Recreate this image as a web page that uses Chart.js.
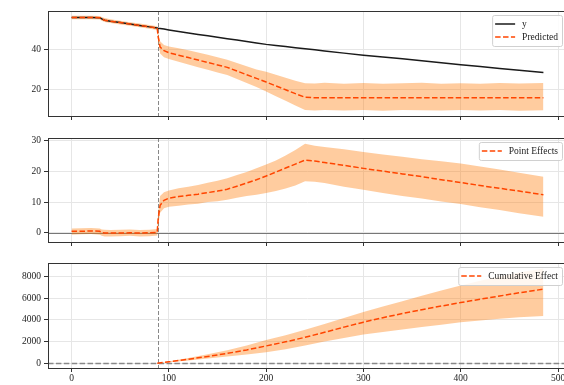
<!DOCTYPE html>
<html>
<head>
<meta charset="utf-8">
<script src="https://cdn.jsdelivr.net/npm/chart.js@4.4.1/dist/chart.umd.min.js"></script>
<style>
  html, body { margin: 0; padding: 0; background: #fff; width: 564px; height: 385px; overflow: hidden; }
  canvas { position: absolute; left: 0; }
</style>
</head>
<body>
<canvas id="c1" width="580" height="125" style="top:0px"></canvas>
<canvas id="c2" width="580" height="128" style="top:125px"></canvas>
<canvas id="c3" width="580" height="132" style="top:253px"></canvas>
<script>
// panels 1 and 2 share the same sampled days
const days = [0, 10, 20, 29, 31, 34, 40, 50, 60, 70, 80, 88, 89, 91, 95, 100, 110, 120, 130, 140,
  150, 160, 170, 180, 190, 200, 210, 220, 230, 240, 250, 260, 280, 300, 320, 340, 360, 380, 400, 420,
  440, 460, 485];

const observed = [55.5, 55.5, 55.5, 55.4, 54.8, 54.2, 53.7, 53.0, 52.3, 51.6, 50.9, 50.3, 50.2, 50.1, 49.8, 49.4, 48.6, 47.9, 47.2, 46.5,
  45.8, 45.1, 44.4, 43.7, 43.0, 42.3, 41.8, 41.2, 40.6, 40.1, 39.6, 39.1, 38.0, 37.0, 36.1, 35.2, 34.2, 33.3, 32.3, 31.4,
  30.5, 29.6, 28.5];
const predicted = [55.5, 55.5, 55.5, 55.4, 54.8, 54.2, 53.7, 53.0, 52.3, 51.6, 50.9, 50.3, 46.0, 41.0, 39.2, 38.2, 37.0, 35.8, 34.6, 33.4,
  32.2, 31.0, 29.2, 27.4, 25.6, 23.8, 21.9, 20.0, 18.1, 16.3, 16.1, 16.1, 16.1, 16.1, 16.1, 16.1, 16.1, 16.1, 16.1, 16.1,
  16.1, 16.1, 16.1];
const predUpper = [56.4, 56.4, 56.4, 56.3, 55.8, 55.2, 54.6, 53.9, 53.2, 52.5, 51.8, 51.2, 48.0, 43.8, 42.0, 41.3, 40.4, 39.4, 38.3, 37.2,
  36.0, 34.8, 33.2, 31.6, 30.0, 28.9, 27.4, 25.9, 24.4, 23.2, 23.1, 23.4, 23.0, 23.3, 22.9, 23.2, 23.4, 23.0, 23.2, 22.9,
  23.3, 23.1, 23.3];
const predLower = [54.6, 54.6, 54.6, 54.5, 53.9, 53.3, 52.8, 52.1, 51.4, 50.7, 50.0, 49.4, 43.5, 37.8, 36.0, 35.1, 33.8, 32.4, 31.1, 29.8,
  28.5, 27.2, 25.3, 23.3, 21.3, 19.1, 16.8, 14.6, 12.3, 10.1, 9.8, 10.1, 9.8, 10.0, 9.7, 10.1, 9.9, 9.8, 10.1, 9.8,
  10.0, 9.7, 9.9];

const pointEffect = [0.5, 0.5, 0.6, 0.5, 0.1, -0.1, -0.1, -0.1, 0.0, -0.1, 0.0, 0.1, 4.5, 9.0, 10.6, 11.3, 11.8, 12.2, 12.6, 13.1,
  13.6, 14.2, 15.2, 16.2, 17.3, 18.5, 19.8, 21.1, 22.4, 23.7, 23.4, 22.9, 22.0, 21.0, 20.1, 19.2, 18.3, 17.3, 16.4, 15.4,
  14.5, 13.6, 12.4];
const pointUpper = [1.4, 1.5, 1.6, 1.4, 1.1, 1.0, 0.9, 1.0, 1.1, 0.9, 1.0, 1.2, 7.0, 12.0, 13.2, 13.8, 14.5, 15.0, 15.6, 16.3,
  17.0, 17.8, 18.8, 19.8, 21.0, 22.3, 23.6, 25.2, 27.0, 29.0, 28.4, 28.0, 27.2, 26.3, 25.5, 24.8, 24.0, 23.3, 22.6, 21.6,
  20.6, 19.6, 18.3];
const pointLower = [-0.6, -0.5, -0.4, -0.6, -1.0, -1.2, -1.2, -1.1, -1.0, -1.2, -1.1, -0.9, 2.0, 6.5, 8.0, 8.5, 8.8, 9.2, 9.5, 10.0,
  10.3, 10.8, 11.4, 12.0, 12.4, 13.0, 13.6, 14.4, 15.4, 16.8, 16.6, 16.2, 15.0, 14.0, 13.0, 12.0, 11.2, 10.2, 9.4, 8.3,
  7.4, 6.4, 5.2];

const cumDays = [88, 100, 120, 140, 160, 180, 200, 220, 240, 260, 280, 300, 320, 340, 360, 380, 400, 420, 440, 460, 485];
const cumEffect = [0, 130, 370, 630, 910, 1230, 1600, 1980, 2400, 2860, 3340, 3800, 4210, 4600, 4950, 5290, 5610, 5920, 6220, 6510, 6850];
const cumUpper = [0, 170, 480, 820, 1200, 1650, 2150, 2600, 3100, 3620, 4180, 4740, 5250, 5740, 6230, 6720, 7200, 7630, 8020, 8400, 8750];
const cumLower = [0, 90, 260, 440, 620, 810, 1010, 1300, 1650, 2000, 2330, 2650, 2900, 3130, 3340, 3560, 3780, 3960, 4110, 4250, 4380];

const intervention = 88.5;
const xTicks = [0, 100, 200, 300, 400, 500];

const ORANGE = '#ff4500';
const BAND = 'rgba(255, 127, 14, 0.4)';
const FAMILY = '"Liberation Serif", "DejaVu Serif", serif';
const FONT = { family: FAMILY, size: 9.5, lineHeight: 1 };

const pts = (xs, ys) => xs.map((x, i) => ({ x, y: ys[i] }));

const bandSets = (xs, lo, hi) => [
  { data: pts(xs, lo), borderColor: 'transparent', borderWidth: 0, fill: false, order: 2 },
  { data: pts(xs, hi), borderColor: 'transparent', borderWidth: 0, backgroundColor: BAND, fill: '-1', order: 2 }
];

const dashed = (xs, ys) => ({
  data: pts(xs, ys), borderColor: ORANGE, borderWidth: 1.5, borderDash: [5.5, 2.4], fill: false, order: 0
});

const decor = {
  id: 'decor',
  beforeDatasetsDraw(chart, args, opts) {
    const { ctx, chartArea: a, scales: { x, y } } = chart;
    ctx.save();
    ctx.beginPath();
    ctx.rect(a.left, a.top, a.right - a.left, a.bottom - a.top);
    ctx.clip();
    if (opts.zero) {
      const py = Math.round(y.getPixelForValue(0)) + 0.5;
      ctx.strokeStyle = opts.zero.color;
      ctx.lineWidth = opts.zero.width;
      ctx.setLineDash(opts.zero.dash);
      ctx.beginPath();
      ctx.moveTo(a.left, py);
      ctx.lineTo(a.right, py);
      ctx.stroke();
    }
    const px = Math.round(x.getPixelForValue(intervention)) + 0.5;
    ctx.strokeStyle = '#888';
    ctx.lineWidth = 1;
    ctx.setLineDash([4, 2]);
    ctx.beginPath();
    ctx.moveTo(px, a.top);
    ctx.lineTo(px, a.bottom);
    ctx.stroke();
    ctx.restore();
  },
  afterDraw(chart, args, opts) {
    const { ctx, chartArea: a } = chart;
    ctx.save();
    // axes frame
    ctx.strokeStyle = '#333';
    ctx.lineWidth = 1;
    ctx.strokeRect(a.left + 0.5, a.top + 0.5, a.right - a.left, a.bottom - a.top);

    // legend in the upper right corner
    const items = opts.legend;
    ctx.font = '9.5px ' + FAMILY;
    const tw = Math.max(...items.map(it => ctx.measureText(it.label).width));
    const rowH = 13;
    const w = 3 + 20 + 7 + tw + 4;
    const h = items.length * rowH + 5;
    const bx = a.right - 5 - w;
    const by = a.top + 4;
    ctx.fillStyle = 'rgba(255,255,255,0.85)';
    ctx.strokeStyle = '#d0d0d0';
    ctx.beginPath();
    ctx.roundRect(bx + 0.5, by + 0.5, w, h, 2);
    ctx.fill();
    ctx.stroke();
    items.forEach((it, i) => {
      const cy = by + 2.5 + rowH * i + rowH / 2;
      ctx.strokeStyle = it.color;
      ctx.lineWidth = 1.5;
      ctx.setLineDash(it.dash);
      ctx.beginPath();
      ctx.moveTo(bx + 3, cy);
      ctx.lineTo(bx + 23, cy);
      ctx.stroke();
      ctx.setLineDash([]);
      ctx.fillStyle = '#222';
      ctx.textBaseline = 'middle';
      ctx.fillText(it.label, bx + 30, cy + 0.5);
    });
    ctx.restore();
  }
};

function makePanel(id, cfg) {
  const canvas = document.getElementById(id);
  return new Chart(canvas, {
    type: 'line',
    data: { datasets: cfg.datasets },
    options: {
      responsive: false,
      animation: false,
      events: [],
      elements: { point: { radius: 0 }, line: { tension: 0 } },
      layout: { padding: { top: cfg.top, right: canvas.width - 567, left: 0, bottom: 0 } },
      plugins: {
        legend: { display: false },
        tooltip: { enabled: false },
        decor: { legend: cfg.legend, zero: cfg.zero }
      },
      scales: {
        x: {
          type: 'linear',
          min: -24.25,
          max: 509.25,
          afterBuildTicks: s => { s.ticks = xTicks.map(v => ({ value: v })); },
          afterFit: s => { s.height = cfg.xHeight; s.paddingLeft = 0; s.paddingRight = 0; },
          grid: { color: '#e6e6e6', tickColor: '#333', tickLength: 4 },
          border: { display: false },
          ticks: { display: cfg.xLabels, font: FONT, color: '#222', padding: 2, maxRotation: 0,
            callback: v => String(v) }
        },
        y: {
          min: cfg.yMin,
          max: cfg.yMax,
          afterBuildTicks: s => { s.ticks = cfg.yTicks.map(v => ({ value: v })); },
          afterFit: s => { s.width = 48; s.paddingTop = 0; s.paddingBottom = 0; },
          grid: { color: '#e6e6e6', tickColor: '#333', tickLength: 4 },
          border: { display: false },
          ticks: { font: FONT, color: '#222', padding: 3, callback: v => String(v) }
        }
      }
    },
    plugins: [decor]
  });
}

makePanel('c1', {
  top: 11, xHeight: 9, xLabels: false,
  yMin: 7.1, yMax: 58.7, yTicks: [20, 40],
  datasets: [
    ...bandSets(days, predLower, predUpper),
    { data: pts(days, observed), borderColor: '#1a1a1a', borderWidth: 1.5, fill: false, order: 1 },
    dashed(days, predicted)
  ],
  legend: [
    { label: 'y', color: '#1a1a1a', dash: [] },
    { label: 'Predicted', color: ORANGE, dash: [5.5, 2.4] }
  ]
});

makePanel('c2', {
  top: 13, xHeight: 11, xLabels: false,
  yMin: -3.0, yMax: 30.9, yTicks: [0, 10, 20, 30],
  datasets: [
    ...bandSets(days, pointLower, pointUpper),
    dashed(days, pointEffect)
  ],
  zero: { color: '#777', width: 1.2, dash: [] },
  legend: [{ label: 'Point Effects', color: ORANGE, dash: [5.5, 2.4] }]
});

makePanel('c3', {
  top: 10, xHeight: 17, xLabels: true,
  yMin: -440, yMax: 9270, yTicks: [0, 2000, 4000, 6000, 8000],
  datasets: [
    ...bandSets(cumDays, cumLower, cumUpper),
    dashed(cumDays, cumEffect)
  ],
  zero: { color: '#888', width: 1.3, dash: [5.5, 2.4] },
  legend: [{ label: 'Cumulative Effect', color: ORANGE, dash: [5.5, 2.4] }]
});
</script>
</body>
</html>
